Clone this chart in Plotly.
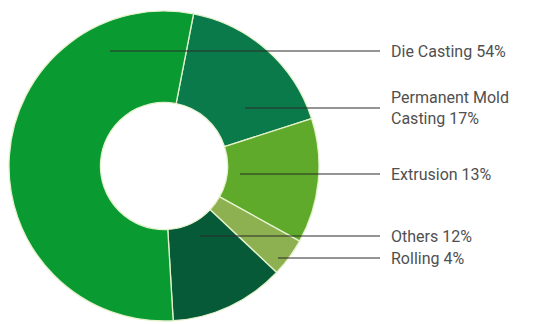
import plotly.graph_objects as go

# Aluminium usage by process (share, %)
categories = ["Permanent Mold Casting", "Extrusion", "Rolling", "Others", "Die Casting"]
shares = [17, 13, 4, 12, 54]
colors = ["#0B7A4A", "#5FAA2A", "#8DB050", "#075A38", "#0A9A32"]

# Label text shown to the right of the donut, top to bottom
label_text = ["Die Casting 54%", "Permanent Mold<br>Casting 17%", "Extrusion 13%",
              "Others 12%", "Rolling 4%"]

W, H = 541, 324
cx, cy, r = 164, 166, 155

fig = go.Figure(go.Pie(
    labels=categories,
    values=shares,
    marker=dict(colors=colors, line=dict(color="#E4F2CC", width=1.3)),
    hole=0.41,
    sort=False,
    direction="clockwise",
    rotation=11,
    textinfo="none",
    hoverinfo="label+percent",
    domain=dict(x=[(cx - r) / W, (cx + r) / W],
                y=[(H - cy - r) / H, (H - cy + r) / H]),
    showlegend=False,
))

# Leader lines: start x inside the slice, y of the line, end x before the text
leaders = [(110, 51), (245, 108), (240, 174), (200, 236), (278, 258)]
line_end = 380
text_x = 389

shapes = []
for x0, y in leaders:
    shapes.append(dict(type="line", xref="paper", yref="paper",
                       x0=x0 / W, x1=line_end / W, y0=1 - y / H, y1=1 - y / H,
                       line=dict(color="#2a2a2a", width=1)))

annotations = []
for (x0, y), txt in zip(leaders, label_text):
    annotations.append(dict(xref="paper", yref="paper", x=text_x / W, y=1 - y / H,
                            text=txt, showarrow=False, xanchor="left", yanchor="middle",
                            align="left",
                            font=dict(family="Roboto", size=16, color="#505050")))

fig.update_layout(
    width=W, height=H,
    margin=dict(l=0, r=0, t=0, b=0),
    paper_bgcolor="white", plot_bgcolor="white",
    shapes=shapes, annotations=annotations,
)

fig.write_html("out.html")
